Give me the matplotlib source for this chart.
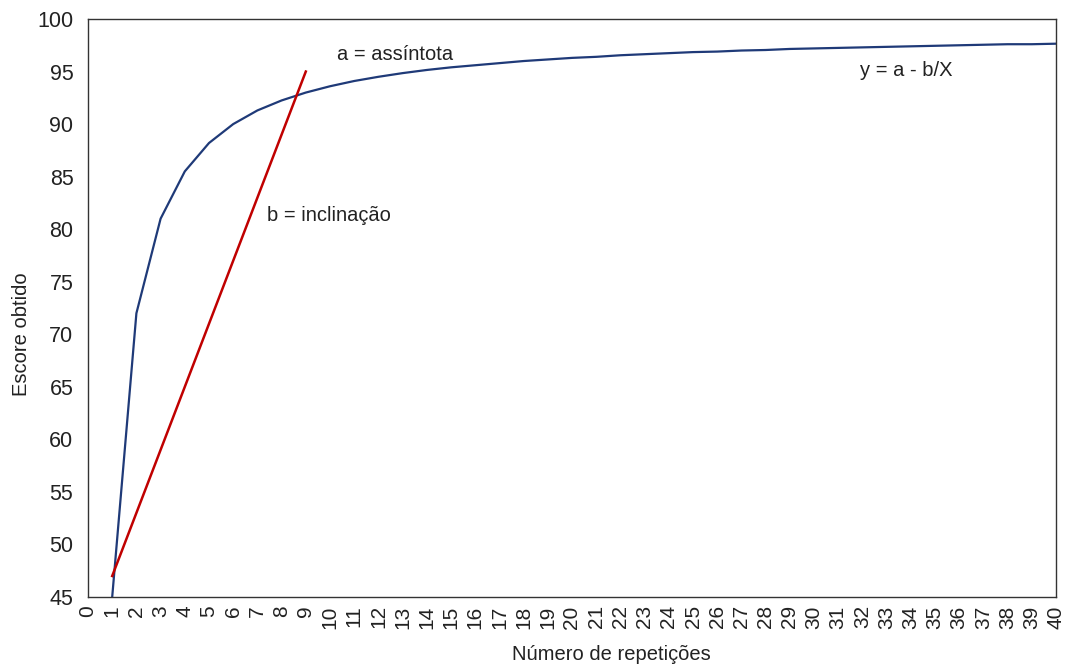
import matplotlib
matplotlib.use("Agg")
import matplotlib.pyplot as plt

plt.rcParams['font.family'] = ['Liberation Sans', 'DejaVu Sans']

repeticoes = list(range(1, 41))
escore = [45.0, 72.0, 81.0, 85.5, 88.2, 90.0, 91.3, 92.25, 93.0, 93.6,
          94.1, 94.5, 94.85, 95.15, 95.4, 95.6, 95.8, 96.0, 96.15, 96.3,
          96.4, 96.55, 96.65, 96.75, 96.85, 96.9, 97.0, 97.05, 97.15, 97.2,
          97.25, 97.3, 97.35, 97.4, 97.45, 97.5, 97.55, 97.6, 97.6, 97.65]
inclinacao_x = [1, 9]
inclinacao_y = [47, 95]
xticks = list(range(0, 41))
yticks = list(range(45, 101, 5))

W, H = 1067, 668
fig = plt.figure(figsize=(W / 100, H / 100), dpi=100)
ax = fig.add_axes([88 / W, 1 - 597 / H, (1056 - 88) / W, (597 - 19) / H])
ax.plot(repeticoes, escore, color='#1F3A78', lw=1.6, solid_joinstyle='round')
ax.plot(inclinacao_x, inclinacao_y, color='#C00000', lw=1.8)
ax.set_xlim(0, 40)
ax.set_ylim(45, 100)
ax.set_xticks(xticks)
ax.set_xticklabels([str(t) for t in xticks], rotation=90, fontsize=15)
ax.set_yticks(yticks)
ax.set_yticklabels([str(t) for t in yticks], fontsize=15.5)
ax.tick_params(axis='y', length=0, pad=10.5, colors='#222222')
ax.tick_params(axis='x', length=0, pad=6, colors='#222222')
for s in ax.spines.values():
    s.set_color('#333333')
    s.set_linewidth(1.0)
fig.text(611 / W, 1 - 655 / H, 'Número de repetições', fontsize=14.5,
         ha='center', va='center', color='#222222')
fig.text(22 / W, 1 - 334 / H, 'Escore obtido', fontsize=14.5, rotation=90,
         ha='center', va='center', color='#222222')
ax.text(10.3, 96.6, 'a = assíntota', fontsize=14.5, va='center', ha='left', color='#222222')
ax.text(7.4, 81.3, 'b = inclinação', fontsize=14.5, va='center', ha='left', color='#222222')
ax.text(31.9, 95.1, 'y = a - b/X', fontsize=14.5, va='center', ha='left', color='#222222')

fig.savefig('out.png', dpi=100)
